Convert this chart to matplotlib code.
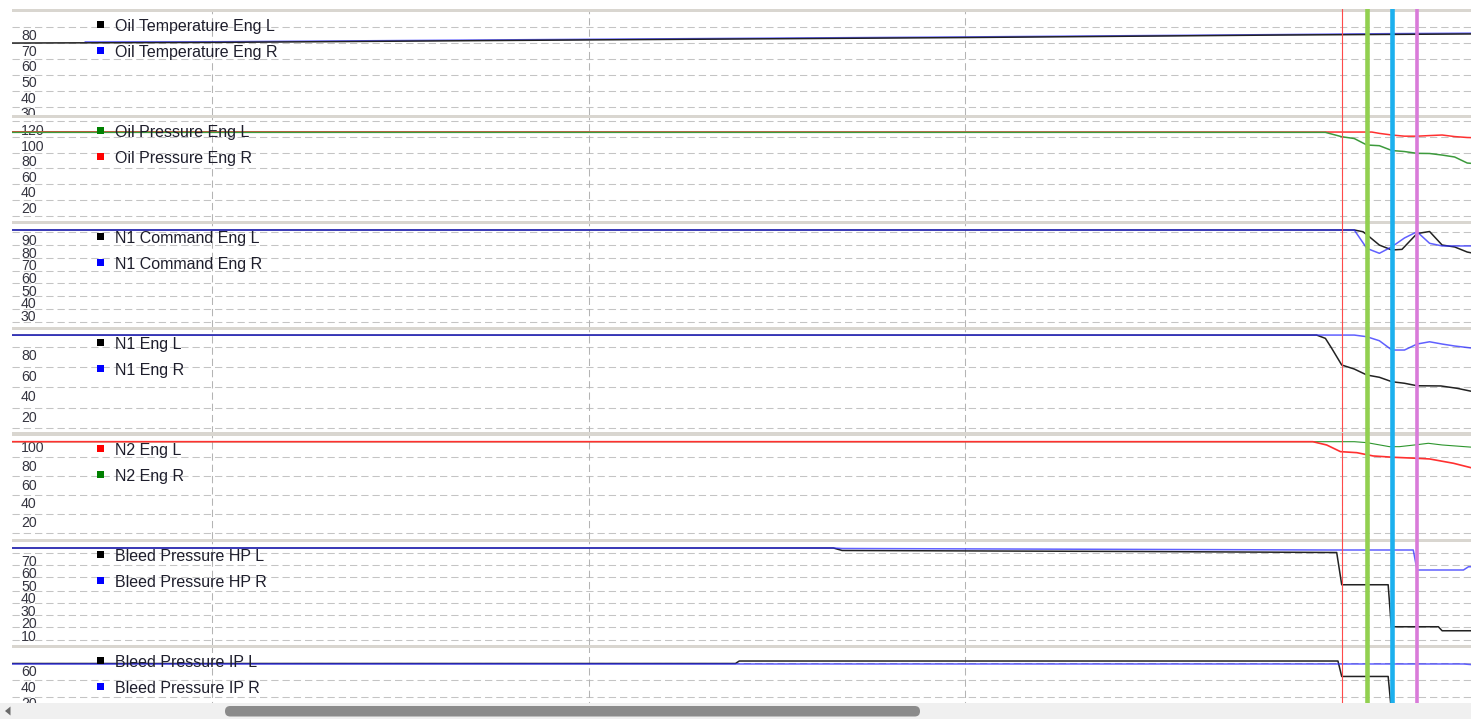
import matplotlib
matplotlib.use("Agg")
import matplotlib.pyplot as plt
from matplotlib.patches import Rectangle, FancyBboxPatch, Polygon
from matplotlib.transforms import blended_transform_factory, IdentityTransform

plt.rcParams['font.family'] = ['Liberation Sans', 'DejaVu Sans']

W, H, DPI = 1471, 719, 100

# ---------------- data (x = sample index, 3 samples per second) ----------------
x_range = (44.06, 160.3)
time_grid = [60, 90, 120, 150]
event_samples = [150, 152, 154, 156]
event_colors = ['#ff4a4a', '#92d050', '#1cb0ee', '#d97bd9']
event_widths = [0.8, 3.3, 3.3, 2.6]

# Oil temperature
oil_temp_l_x = [44, 60, 90, 120, 145, 160.5]
oil_temp_l = [75.5, 75.9, 77.5, 79.0, 80.6, 81.3]
oil_temp_r_x = [49.9, 60, 90, 120, 145, 154, 160.5]
oil_temp_r = [76.2, 76.3, 77.9, 79.4, 80.9, 81.5, 81.8]

# Oil pressure
oil_press_l_x = [44, 148.7, 150, 151, 152, 153, 154, 155, 156, 157, 158, 159, 160, 160.5]
oil_press_l = [118.3, 118.3, 112.7, 110.4, 102.1, 101.2, 95.0, 93.7, 91.4, 91.2, 89.2, 86.7, 79.0, 78.3]
oil_press_r_x = [44, 152.4, 153, 154, 155, 156, 157, 158, 159, 160, 160.5]
oil_press_r = [119.0, 118.7, 117.0, 114.9, 113.4, 113.4, 114.2, 114.9, 112.9, 111.7, 111.5]

# N1 command
n1_cmd_l_x = [44, 151, 151.7, 152, 153, 154, 154.8, 156, 157, 158, 159, 160, 160.5]
n1_cmd_l = [98.7, 98.7, 97.3, 95.0, 86.8, 82.9, 83.4, 95.9, 97.5, 86.8, 85.3, 81.3, 80.3]
n1_cmd_r_x = [44, 151, 152, 153, 154, 155, 156, 157, 158, 160.5]
n1_cmd_r = [98.7, 98.7, 84.2, 80.3, 85.5, 92.4, 97.3, 88.2, 86.1, 86.1]

# N1
n1_l_x = [44, 148, 148.7, 149.2, 150, 151, 152, 153, 154, 155, 156, 157.9, 159.2, 160.5]
n1_l = [100.3, 100.3, 97.1, 87.5, 71.3, 67.4, 61.6, 59.4, 55.1, 53.6, 51.2, 51.0, 48.7, 45.4]
n1_r_x = [44, 151, 152, 153, 154, 155, 156, 157, 158, 159, 160.5]
n1_r = [100.3, 100.3, 98.7, 94.8, 85.8, 85.8, 91.6, 93.8, 91.6, 89.7, 87.5]

# N2
n2_l_x = [44, 147.7, 148.8, 149.9, 151.2, 152.5, 154.1, 156, 157, 158.9, 160.5]
n2_l = [106.7, 106.7, 103.2, 96.1, 95.0, 91.5, 90.1, 89.0, 88.3, 83.7, 78.3]
n2_r_x = [44, 151, 152, 153.8, 154.6, 156, 156.9, 158, 160.5]
n2_r = [106.7, 106.7, 105.7, 101.4, 101.4, 103.5, 105.0, 103.2, 100.7]

# Bleed pressure HP
bleed_hp_l_x = [44, 109.5, 110.2, 122, 134, 149.6, 150.0, 153.7, 153.95, 157.7, 158.0, 160.5]
bleed_hp_l = [81.0, 81.0, 79.0, 78.6, 78.2, 77.4, 51.6, 51.6, 18.0, 18.0, 14.8, 14.8]
bleed_hp_r_x = [44, 109.5, 110.2, 149, 155.7, 156.0, 159.7, 160.1, 160.5]
bleed_hp_r = [81.0, 81.0, 80.6, 79.4, 79.4, 63.4, 63.4, 66.0, 66.0]

# Bleed pressure IP
bleed_ip_l_x = [44, 101.7, 102.0, 149.7, 150.0, 153.7, 153.95, 160.5]
bleed_ip_l = [70.0, 70.0, 73.1, 73.1, 53.8, 53.8, 12.0, 12.0]
bleed_ip_r_x = [44, 159.7, 160.5]
bleed_ip_r = [69.4, 69.4, 68.4]

BLACK, BLUE, GREEN, RED = '#222222', '#2b2bff', '#3c9a3c', '#ff3030'
SQ_BLACK, SQ_BLUE, SQ_GREEN, SQ_RED = '#000000', '#0000ff', '#008000', '#ff0000'

# series entry: (name, x, y, line colour, legend square colour, zorder, line width)
panels = [
    dict(ylim=(30.0, 97.5), labels=[80, 70, 60, 50, 40, 30],
         grid=[85.9, 75.7, 65.5, 55.3, 45.1, 34.9],
         series=[('Oil Temperature Eng L', oil_temp_l_x, oil_temp_l, BLACK, SQ_BLACK, 3.1, 1.1),
                 ('Oil Temperature Eng R', oil_temp_r_x, oil_temp_r, BLUE, SQ_BLUE, 3, 1.1)]),
    dict(ylim=(5.3, 141.2), labels=[120, 100, 80, 60, 40, 20],
         grid=[132.6, 112.4, 92.2, 72.0, 51.8, 31.6, 11.4],
         series=[('Oil Pressure Eng L', oil_press_l_x, oil_press_l, GREEN, SQ_GREEN, 3.1, 1.1),
                 ('Oil Pressure Eng R', oil_press_r_x, oil_press_r, RED, SQ_RED, 3, 1.1)]),
    dict(ylim=(22.5, 106.2), labels=[90, 80, 70, 60, 50, 40, 30],
         grid=[97.0, 86.9, 76.8, 66.7, 56.6, 46.5, 36.4, 26.3],
         series=[('N1 Command Eng L', n1_cmd_l_x, n1_cmd_l, BLACK, SQ_BLACK, 3, 1.1),
                 ('N1 Command Eng R', n1_cmd_r_x, n1_cmd_r, BLUE, SQ_BLUE, 3.1, 1.1)]),
    dict(ylim=(5.9, 108.6), labels=[80, 60, 40, 20],
         grid=[89.0, 69.5, 49.8, 29.6, 9.9],
         series=[('N1 Eng L', n1_l_x, n1_l, BLACK, SQ_BLACK, 3, 1.1),
                 ('N1 Eng R', n1_r_x, n1_r, BLUE, SQ_BLUE, 3.1, 1.1)]),
    dict(ylim=(3.5, 116.5), labels=[100, 80, 60, 40, 20],
         grid=[90.4, 70.1, 49.9, 29.6, 9.3],
         series=[('N2 Eng L', n2_l_x, n2_l, RED, SQ_RED, 3.1, 1.2),
                 ('N2 Eng R', n2_r_x, n2_r, '#2e962e', SQ_GREEN, 3, 0.8)]),
    dict(ylim=(3.8, 88.6), labels=[70, 60, 50, 40, 30, 20, 10],
         grid=[77.0, 67.3, 57.6, 47.0, 37.1, 27.4, 17.7, 7.4],
         series=[('Bleed Pressure HP L', bleed_hp_l_x, bleed_hp_l, BLACK, SQ_BLACK, 3, 1.1),
                 ('Bleed Pressure HP R', bleed_hp_r_x, bleed_hp_r, BLUE, SQ_BLUE, 3.1, 1.1)]),
    dict(ylim=(-38.75, 93.75), labels=[60, 40, 20],
         grid=[71.0, 50.0, 28.75, 7.5],
         series=[('Bleed Pressure IP L', bleed_ip_l_x, bleed_ip_l, BLACK, SQ_BLACK, 3, 1.1),
                 ('Bleed Pressure IP R', bleed_ip_r_x, bleed_ip_r, BLUE, SQ_BLUE, 3.1, 1.1)]),
]

# ---------------- layout ----------------
PLOT_LEFT = 12
TOP0 = 8.5
PANEL_H = 106
BAND_H = 3.5
GRID_DASH = (0, (7, 3.8))

fig = plt.figure(figsize=(W / DPI, H / DPI), dpi=DPI)
fig.patch.set_facecolor('white')


def fig_rect(x0, y0, w, h):
    return [x0 / W, 1 - (y0 + h) / H, w / W, h / H]


for i, p in enumerate(panels):
    top = TOP0 + i * PANEL_H
    ax = fig.add_axes(fig_rect(PLOT_LEFT, top, W - PLOT_LEFT, PANEL_H))
    ax.set_xlim(*x_range)
    ax.set_ylim(*p['ylim'])
    ax.set_axis_off()

    for g in p['grid']:
        ax.axhline(g, color='#c4c4c4', lw=0.75, ls=GRID_DASH, zorder=1)
    for tg in time_grid:
        ax.axvline(tg, color='#b4b4b4', lw=0.75, ls=GRID_DASH, zorder=1)

    # separator band along the top of each pane
    ax.add_patch(Rectangle((0, 1 - BAND_H / PANEL_H), 1, BAND_H / PANEL_H,
                           transform=ax.transAxes, facecolor='#d9d6d0',
                           edgecolor='none', zorder=2))

    trans = blended_transform_factory(ax.transAxes, ax.transData)
    lx = (21 - PLOT_LEFT) / (W - PLOT_LEFT)
    for v in p['labels']:
        ax.text(lx, v, f'{v}', transform=trans, ha='left', va='center',
                fontsize=10.2, color='#34343f', zorder=2.5, clip_on=True)

    for name, xs, ys, col, sq, z, lw in p['series']:
        alpha = 0.75 if col == BLUE else 1.0
        ax.plot(xs, ys, color=col, lw=lw, alpha=alpha, zorder=z,
                solid_joinstyle='round')

    for t, c, w in zip(event_samples, event_colors, event_widths):
        ax.axvline(t, color=c, lw=w, zorder=4)

    # legend entries
    for j, (name, xs, ys, col, sq, z, lw) in enumerate(p['series']):
        cy = top + 16.2 + 26.1 * j
        fig.add_artist(Rectangle((97 / W, 1 - (cy + 3.6) / H), 7.2 / W, 7.2 / H,
                                 transform=fig.transFigure, facecolor=sq,
                                 edgecolor='none', zorder=6))
        fig.text(115 / W, 1 - (top + 22.2 + 26.1 * j) / H, name, fontsize=11.5,
                 va='baseline', ha='left', color='#1e1e2c', zorder=6)

# horizontal scroll bar along the bottom
fig.add_artist(Rectangle((0, 0), 1, 16.5 / H, transform=fig.transFigure,
                         facecolor='#f0f0f0', edgecolor='none', zorder=10))
fig.add_artist(FancyBboxPatch((225, H - 716.5), 695, 10.5,
                              boxstyle='round,pad=0,rounding_size=5.2',
                              transform=IdentityTransform(), facecolor='#8b8b8b',
                              edgecolor='none', zorder=11))
fig.add_artist(Polygon([(5, H - 711), (10.5, H - 706.5), (10.5, H - 715.5)],
                       closed=True, transform=IdentityTransform(),
                       facecolor='#6a6a6a', edgecolor='none', zorder=11))

fig.savefig('out.png', dpi=DPI, facecolor='white')
